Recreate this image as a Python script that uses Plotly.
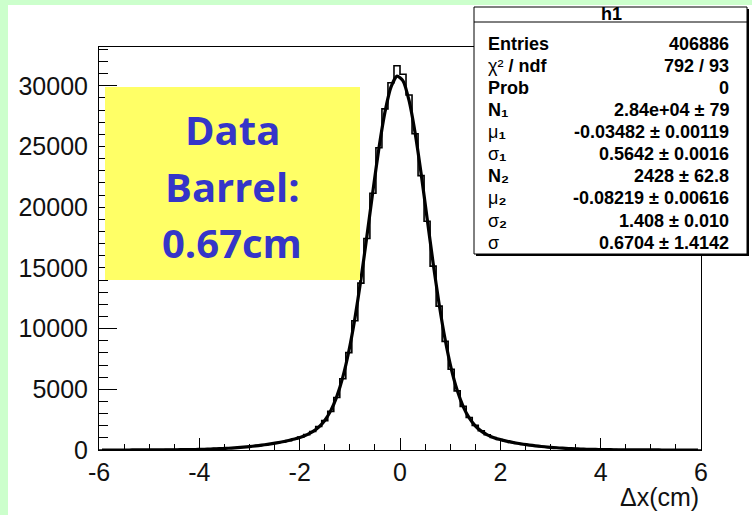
import plotly.graph_objects as go

# ---------------- data ----------------
X_MIN, X_MAX, BIN_WIDTH = -6.0, 6.0, 0.12

hist_counts = [
    3, 2, 5, 4, 6, 8, 9, 12, 14, 18,
    22, 27, 33, 40, 48, 58, 70, 82, 98, 115,
    136, 160, 188, 222, 262, 305, 358, 420, 490, 572,
    668, 770, 902, 1060, 1265, 1530, 1930, 2420, 3180, 4320,
    5870, 8020, 10650, 13750, 17420, 21150, 24900, 28100, 30250, 31650,
    30950, 29250, 26050, 22600, 18850, 15150, 11850, 8950, 6650, 4870,
    3590, 2680, 2030, 1580, 1262, 1035, 868, 738, 630, 540,
    462, 395, 338, 285, 242, 205, 172, 145, 120, 100,
    83, 68, 56, 46, 37, 30, 24, 19, 15, 12,
    9, 7, 6, 4, 4, 3, 2, 2, 1, 1,
]

fit_values = [
    0.5, 0.7, 1, 1, 2, 2.5, 3, 4, 6, 8,
    10, 13.5, 18, 23, 30, 38, 49, 61, 77, 96,
    119, 146, 178, 216, 259, 309, 366, 430, 504, 587,
    678, 785, 905, 1054, 1245, 1508, 1886, 2437, 3243, 4400,
    6002, 8132, 10818, 14024, 17608, 21328, 24861, 27834, 29899, 30800,
    30416, 28797, 26150, 22794, 19097, 15410, 12018, 9098, 6731, 4914,
    3581, 2640, 1993, 1553, 1251, 1040, 880, 753, 648, 556,
    477, 406, 344, 290, 243, 201, 166, 136, 110, 89,
    71, 56, 44, 35, 27, 21, 16, 12, 9, 7,
    5, 4, 3, 2, 1.5, 1, 1, 0.5, 0.4, 0.3,
]

x_tick_labels = ["-6", "-4", "-2", "0", "2", "4", "6"]
y_tick_labels = ["0", "5000", "10000", "15000", "20000", "25000", "30000"]

stats_labels = ["<b>Entries</b>", "χ²<b> / ndf</b>", "<b>Prob</b>",
                "<b>N₁</b>", "μ<b>₁</b>", "σ<b>₁</b>",
                "<b>N₂</b>", "μ<b>₂</b>", "σ<b>₂</b>", "σ"]
stats_values = ["406886", "792 / 93", "0", "2.84e+04 ± 79", "-0.03482 ± 0.00119",
                "0.5642 ± 0.0016", "2428 ± 62.8", "-0.08219 ± 0.00616",
                "1.408 ± 0.010", "0.6704 ± 1.4142"]

# ---------------- geometry ----------------
W, H = 752, 515
L, R, T, B = 99, 701, 47, 450


def px(x):
    return (x - L) / (R - L)


def py(y):
    return (B - y) / (B - T)


n_bins = len(hist_counts)
edges = [X_MIN + BIN_WIDTH * i for i in range(n_bins + 1)]
centers = [X_MIN + BIN_WIDTH * (i + 0.5) for i in range(n_bins)]

fig = go.Figure()
fig.add_trace(go.Scatter(
    x=edges, y=hist_counts + [hist_counts[-1]], mode="lines",
    line=dict(color="black", width=1.6, shape="hv"), hoverinfo="skip",
))
fig.add_trace(go.Scatter(
    x=centers, y=fit_values, mode="lines",
    line=dict(color="black", width=3.2, shape="spline", smoothing=0.6), hoverinfo="skip",
))

font_axis = dict(family="Liberation Sans, Arial, sans-serif", size=25, color="#111")

fig.update_xaxes(
    range=[X_MIN, X_MAX], tickvals=[float(v) for v in x_tick_labels], ticktext=x_tick_labels,
    ticks="inside", ticklen=12, tickwidth=1, tickcolor="black",
    minor=dict(dtick=0.5, ticks="inside", ticklen=6, tickcolor="black", tickwidth=1),
    showline=True, linecolor="black", linewidth=1, mirror=True,
    showgrid=False, zeroline=False, tickfont=font_axis, ticklabelstandoff=0,
)
fig.update_yaxes(
    range=[0, 33200], tickvals=[float(v) for v in y_tick_labels], ticktext=y_tick_labels,
    ticks="inside", ticklen=18, tickwidth=1, tickcolor="black",
    minor=dict(dtick=1000, ticks="inside", ticklen=9, tickcolor="black", tickwidth=1),
    showline=True, linecolor="black", linewidth=1, mirror=True,
    showgrid=False, zeroline=False, tickfont=font_axis, ticklabelstandoff=5,
)

shapes = []
# green page border strips
shapes.append(dict(type="rect", xref="paper", yref="paper", layer="below",
                   x0=px(0), x1=px(8), y0=py(H), y1=py(0),
                   fillcolor="#ccffcc", line=dict(width=0)))
shapes.append(dict(type="rect", xref="paper", yref="paper", layer="below",
                   x0=px(0), x1=px(W), y0=py(5), y1=py(0),
                   fillcolor="#ccffcc", line=dict(width=0)))
# yellow label box
shapes.append(dict(type="rect", xref="paper", yref="paper", layer="above",
                   x0=px(105), x1=px(360), y0=py(280), y1=py(87),
                   fillcolor="#ffff66", line=dict(width=0)))
# stats box shadow + box
shapes.append(dict(type="rect", xref="paper", yref="paper", layer="above",
                   x0=px(476), x1=px(749), y0=py(256), y1=py(9),
                   fillcolor="black", line=dict(width=0)))
shapes.append(dict(type="rect", xref="paper", yref="paper", layer="above",
                   x0=px(474), x1=px(747), y0=py(254), y1=py(7),
                   fillcolor="white", line=dict(color="black", width=1)))
shapes.append(dict(type="line", xref="paper", yref="paper", layer="above",
                   x0=px(474), x1=px(747), y0=py(22), y1=py(22),
                   line=dict(color="black", width=1)))

annotations = []
big_font = dict(family="Open Sans, sans-serif", size=40, color="#3535c8")
for txt, yc in [("Data", 129), ("Barrel:", 186), ("0.67cm", 242)]:
    annotations.append(dict(text="<b>%s</b>" % txt, x=px(232), y=py(yc), xref="paper", yref="paper",
                            showarrow=False, xanchor="center", yanchor="middle", font=big_font))

stat_font = dict(family="Liberation Sans, DejaVu Sans, Arial, sans-serif", size=18, color="black")
annotations.append(dict(text="<b>h1</b>", x=px(611), y=py(14), xref="paper", yref="paper",
                        showarrow=False, xanchor="center", yanchor="middle", font=stat_font))
row_y = [44, 66, 88, 110, 132, 154, 176, 198, 221, 243]
for lab, val, yc in zip(stats_labels, stats_values, row_y):
    annotations.append(dict(text=lab, x=px(486), y=py(yc), xref="paper", yref="paper",
                            showarrow=False, xanchor="left", yanchor="middle", font=stat_font))
    annotations.append(dict(text="<b>%s</b>" % val, x=px(731), y=py(yc), xref="paper", yref="paper",
                            showarrow=False, xanchor="right", yanchor="middle", font=stat_font))

annotations.append(dict(text="Δx(cm)", x=px(701), y=py(497), xref="paper", yref="paper",
                        showarrow=False, xanchor="right", yanchor="middle", font=font_axis))

fig.update_layout(
    width=W, height=H, margin=dict(l=L, r=W - R, t=T, b=H - B),
    paper_bgcolor="white", plot_bgcolor="white", showlegend=False,
    shapes=shapes, annotations=annotations,
)

fig.write_html("out.html")
